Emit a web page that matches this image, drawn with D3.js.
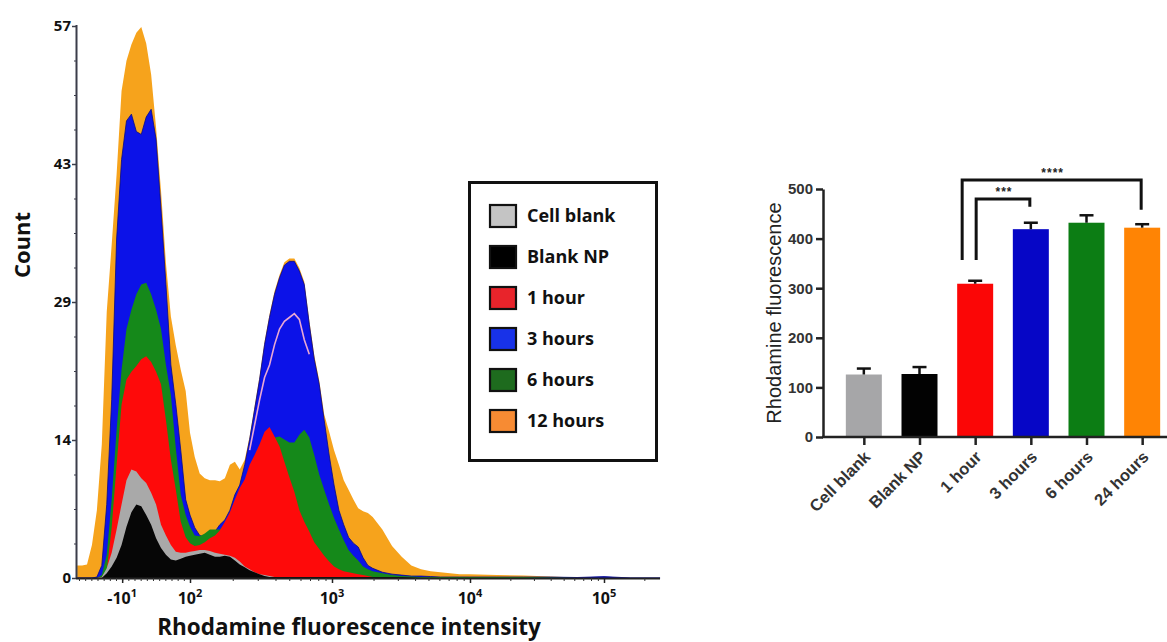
<!DOCTYPE html>
<html><head><meta charset="utf-8">
<script src="https://cdn.jsdelivr.net/npm/d3@7"></script>
<style>body{margin:0;background:#fff;}svg{display:block;}</style>
</head><body>
<svg id="c" width="1167" height="642"></svg>
<script>
// ---------------- DATA ----------------
// Histogram bin centres (fluorescence intensity)
const fluorBins = [-83,-75,-67,-59,-51,-43,-35,-27,-19,-11,-3,5,13,21,29,37,45,53,61,69,77,85,93,
  100,108,117,127,138,150,162,176,191,207,224,243,263,285,309,335,363,394,427,462,501,543,589,638,692,750,813,881,955,1035,
  1122,1216,1318,1429,1549,1679,1820,1972,2317,2723,3199,3758,4416,5188,6095,7161,8414,9886,15849,25119,39811,63096,100000,158489,262144];

const count12h = [1.3,1.3,1.4,3.4,7.0,13.8,27.5,34.4,41.7,50.3,53.4,55.1,56.3,56.9,55.2,52.0,46.5,40.0,32.5,27.0,24.0,21.5,19.3,
  15.0,12.5,10.8,10.3,10.1,10.1,10.0,10.3,11.7,12.0,11.2,12.2,14.6,17.7,20.8,24.4,27.2,29.6,31.3,32.6,33.0,33.0,32.0,30.6,26.6,23.0,20.4,16.9,15.1,13.2,
  11.7,10.1,9.1,8.1,7.2,6.9,6.7,6.3,5.0,3.3,2.2,1.3,0.9,0.7,0.6,0.5,0.4,0.4,0.3,0.25,0.15,0.05,0.05,0,0];
const count3h = [0,0,0,0,0.1,1.3,7.6,18.4,35.0,43.2,47.2,47.9,46.1,45.8,47.6,48.4,45.3,38.1,30.3,22.0,17.9,13.2,8.1,
  6.5,5.2,4.4,4.2,4.4,4.8,5.5,6.0,7.0,8.6,9.6,11.7,14.3,17.4,20.5,24.1,26.9,29.3,31.0,32.3,32.7,32.7,31.7,30.3,26.2,22.6,20.0,16.3,12.7,9.6,
  7.0,5.5,4.2,3.6,3.2,2.1,1.3,1.0,0.6,0.4,0.3,0.2,0.2,0.15,0.1,0.1,0.1,0.1,0.1,0.1,0.1,0.05,0.15,0,0];
const count6h = [0,0,0,0,0,0.3,2.4,8.1,15.3,21.5,25.7,27.7,29.3,30.3,30.5,29.3,27.7,25.7,22.0,18.9,13.4,8.6,6.5,
  5.3,4.4,4.3,4.6,5.0,5.0,5.0,5.6,6.5,7.8,9.0,9.9,11.2,12.2,13.2,14.1,14.3,14.5,14.6,14.3,14.0,14.0,14.8,15.3,14.5,12.7,10.7,9.1,7.6,6.2,
  5.0,3.9,2.9,2.3,1.8,1.2,0.9,0.7,0.5,0.3,0.2,0.15,0.1,0.1,0.1,0.1,0.1,0.1,0.1,0.1,0.05,0,0,0,0];
const count1h = [0,0,0,0,0,0.1,0.8,5.2,11.7,17.9,20.5,21.3,21.9,22.6,22.9,22.3,21.3,20.0,16.3,12.2,9.1,5.8,4.2,
  3.6,3.3,3.4,3.7,4.1,4.4,4.9,5.8,6.8,8.1,9.3,10.2,11.7,12.7,13.8,15.1,15.6,14.6,13.6,12.0,10.4,8.9,7.0,5.8,4.8,3.7,3.0,2.3,1.7,1.2,
  0.9,0.7,0.6,0.5,0.4,0.3,0.2,0.1,0.1,0.1,0.05,0,0,0,0,0,0,0,0,0,0,0,0,0,0];
const countCellBlank = [0,0,0,0,0,0.1,1.0,2.6,5.0,7.6,10.1,11.2,11.0,10.3,9.8,8.8,7.6,5.5,4.4,3.4,2.7,2.6,2.6,
  2.7,2.8,2.9,2.9,2.8,2.6,2.5,2.4,2.3,2.1,1.7,1.2,0.9,0.6,0.4,0.3,0.2,0.1,0.05,0,0,0,0,0,0,0,0,0,0,0,
  0,0,0,0,0,0,0,0,0,0,0,0,0,0,0,0,0,0,0,0,0,0,0,0,0];
const countBlankNP = [0,0,0,0,0,0,0.5,1.2,2.1,3.4,5.3,6.8,7.6,7.4,6.5,5.5,4.1,3.1,2.4,1.9,1.8,2.0,2.2,
  2.3,2.4,2.5,2.6,2.4,2.2,2.2,2.3,2.2,1.8,1.4,1.1,0.8,0.6,0.4,0.2,0.1,0.1,0.1,0.1,0.1,0.1,0.1,0.1,0.1,0.1,0.1,0.1,0.1,0.1,
  0.1,0.1,0.1,0.1,0.1,0.1,0.1,0.1,0.1,0.1,0.1,0.05,0,0,0,0,0,0,0,0,0,0,0,0,0];
// thin pink outline drawn over the 3 hours peak
const outlineBins = [263,285,309,335,363,394,427,462,501,543,589,638,692];
const outlineCounts = [13.2,15.8,18.4,20.7,22.0,24.1,25.7,26.5,26.9,27.3,26.7,24.6,23.1];

const legendLabels = ["Cell blank","Blank NP","1 hour","3 hours","6 hours","12 hours"];
const histYTicks = [0,14.25,28.5,42.75,57];
const histYTickLabels = ["0","14","29","43","57"];
const histXTicks = [-10,100,1000,10000,100000];
const histXTickBase = ["-10","10","10","10","10"];
const histXTickExp = ["1","2","3","4","5"];

// Bar chart
const barCategories = ["Cell blank","Blank NP","1 hour","3 hours","6 hours","24 hours"];
const barValues = [126,127,309,419,432,422];
const barErrors = [12,14,6,13,15,7];
const barYTicks = [0,100,200,300,400,500];
const comparisons = [
  {from:"1 hour", to:"3 hours", label:"***"},
  {from:"1 hour", to:"24 hours", label:"****"}
];

// ---------------- DRAW ----------------
const svg = d3.select("#c");
const HF = "'Open Sans', 'DejaVu Sans', sans-serif";
const BF = "'Liberation Sans', Arial, sans-serif";

// ---- Histogram ----
const biex = v => v >= 100 ? Math.log10(v) : 2 - (100 - v) / (100 * Math.LN10);
const xT = d3.scaleLinear().domain([2,3,4,5]).range([190,332,470,604]);
const xH = v => xT(biex(v));
const yH = d3.scaleLinear().domain([0,57]).range([578,26]);

const histSeries = [
  {values:count12h, fill:"#f6a31c", stroke:"none"},
  {values:count3h, fill:"#0c12e8", stroke:"#05098a"},
  {values:count6h, fill:"#15891a", stroke:"none"},
  {values:count1h, fill:"#fe0a0a", stroke:"none"},
  {values:countCellBlank, fill:"#a9a9a9", stroke:"none"},
  {values:countBlankNP, fill:"#060606", stroke:"none"}
];
const area = d3.area().x((d,i)=>xH(fluorBins[i])).y0(yH(0)).y1(d=>yH(d));
const hg = svg.append("g");
histSeries.forEach((s,k)=>{
  hg.append("path").attr("d", area(s.values)).attr("fill", s.fill)
    .attr("stroke", s.stroke).attr("stroke-width", 0.8);
  if (k === 1) {
    hg.append("path")
      .attr("d", d3.line().x((d,i)=>xH(outlineBins[i])).y(d=>yH(d))(outlineCounts))
      .attr("fill","none").attr("stroke","#e9a8d2").attr("stroke-width",1.6);
  }
});

// axes lines
svg.append("line").attr("x1",76.5).attr("x2",76.5).attr("y1",yH(57)-1).attr("y2",579)
  .attr("stroke","#3b3d4a").attr("stroke-width",2);
svg.append("line").attr("x1",76).attr("x2",660).attr("y1",578.5).attr("y2",578.5)
  .attr("stroke","#222").attr("stroke-width",2);

// y ticks
const yAx = svg.append("g").attr("transform","translate(76,0)")
  .call(d3.axisLeft(yH).tickValues(histYTicks).tickSize(4).tickFormat((d,i)=>histYTickLabels[i]));
yAx.select(".domain").remove();
yAx.selectAll("line").attr("stroke","#3b3d4a").attr("stroke-width",1.5);
yAx.selectAll("text").attr("font-family",HF).attr("font-weight",700).attr("font-size",15)
  .attr("fill","#111").attr("x",-5);
const yMinor = svg.append("g").attr("transform","translate(76,0)")
  .call(d3.axisLeft(yH).tickValues(d3.range(0,57.01,3.5625)).tickSize(2).tickFormat(""));
yMinor.select(".domain").remove();
yMinor.selectAll("line").attr("stroke","#3b3d4a");

// x ticks
const xMinorVals = d3.range(-80,100,10).map(biex)
  .concat([2,3,4,5].flatMap(e=>d3.range(2,10).map(m=>Math.log10(m*Math.pow(10,e)))).filter(t=>t<5.41));
const xMinor = svg.append("g").attr("transform","translate(0,578)")
  .call(d3.axisBottom(xT).tickValues(xMinorVals).tickSize(3).tickFormat(""));
xMinor.select(".domain").remove();
xMinor.selectAll("line").attr("stroke","#333");
const xMajor = svg.append("g").attr("transform","translate(0,578)")
  .call(d3.axisBottom(xT).tickValues(histXTicks.map(biex)).tickSize(5).tickFormat(""));
xMajor.select(".domain").remove();
xMajor.selectAll("line").attr("stroke","#222").attr("stroke-width",1.5);
histXTicks.forEach((v,i)=>{
  const t = svg.append("text").attr("x", xH(v)).attr("y", 604).attr("text-anchor","middle")
    .attr("font-family",HF).attr("font-weight",700).attr("font-size",16).attr("fill","#111");
  t.append("tspan").text(histXTickBase[i]);
  t.append("tspan").attr("dy",-7).attr("font-size",11).text(histXTickExp[i]);
});

// titles
svg.append("text").attr("x",349).attr("y",635).attr("text-anchor","middle")
  .attr("font-family",HF).attr("font-weight",700).attr("font-size",22.5).attr("fill","#111")
  .text("Rhodamine fluorescence intensity");
svg.append("text").attr("transform","translate(30,245) rotate(-90)").attr("text-anchor","middle")
  .attr("font-family",HF).attr("font-weight",700).attr("font-size",22).attr("fill","#111")
  .text("Count");

// legend
const legendFills = ["#c4c4c4","#000000","#e8242b","#1832e8","#1e6b1e","#f78b33"];
svg.append("rect").attr("x",469.5).attr("y",182.5).attr("width",187).attr("height",278)
  .attr("fill","#fff").attr("stroke","#111").attr("stroke-width",3);
const ly = d3.scalePoint().domain(legendLabels).range([216,421]);
legendLabels.forEach((lab,i)=>{
  svg.append("rect").attr("x",490).attr("y",ly(lab)-11).attr("width",26).attr("height",22)
    .attr("fill",legendFills[i]).attr("stroke","#111").attr("stroke-width",2.2);
  svg.append("text").attr("x",527).attr("y",ly(lab)).attr("dy","0.35em")
    .attr("font-family",HF).attr("font-weight",700).attr("font-size",18).attr("fill","#111").text(lab);
});

// ---- Bar chart ----
const xB = d3.scalePoint().domain(barCategories).range([836,1170]).padding(0.5);
const yB = d3.scaleLinear().domain([0,500]).range([437,189]);
const barFills = ["#a6a6a8","#020202","#fb0606","#0606c6","#0c7d14","#ff8404"];
const barW = 36;
const bg = svg.append("g");
barCategories.forEach((c,i)=>{
  bg.append("rect").attr("x",xB(c)-barW/2).attr("y",yB(barValues[i])).attr("width",barW)
    .attr("height",yB(0)-yB(barValues[i])).attr("fill",barFills[i]);
  const top = yB(barValues[i]+barErrors[i]);
  bg.append("line").attr("x1",xB(c)).attr("x2",xB(c)).attr("y1",yB(barValues[i])).attr("y2",top)
    .attr("stroke","#111").attr("stroke-width",2.5);
  bg.append("line").attr("x1",xB(c)-7).attr("x2",xB(c)+7).attr("y1",top).attr("y2",top)
    .attr("stroke","#111").attr("stroke-width",2.5);
});
const bY = svg.append("g").attr("transform","translate(823,0)")
  .call(d3.axisLeft(yB).tickValues(barYTicks).tickSize(7).tickSizeOuter(0));
bY.select(".domain").attr("stroke","#222").attr("stroke-width",2.5);
bY.selectAll("line").attr("stroke","#222").attr("stroke-width",2.5);
bY.selectAll("text").attr("font-family",BF).attr("font-weight",700).attr("font-size",15).attr("fill","#333");
svg.append("line").attr("x1",822).attr("x2",1167).attr("y1",437).attr("y2",437)
  .attr("stroke","#222").attr("stroke-width",2.5);
const bX = svg.append("g").attr("transform","translate(0,437)")
  .call(d3.axisBottom(xB).tickSize(8).tickSizeOuter(0));
bX.select(".domain").remove();
bX.selectAll("line").attr("stroke","#222").attr("stroke-width",2.5);
bX.selectAll("text").attr("font-family",BF).attr("font-weight",700).attr("font-size",16.5).attr("fill","#333")
  .attr("text-anchor","end").attr("dy",null).attr("y",null)
  .attr("transform","translate(7,21) rotate(-45)");
svg.append("text").attr("transform","translate(781,313) rotate(-90)").attr("text-anchor","middle")
  .attr("font-family",BF).attr("font-size",20).attr("fill","#222").text("Rhodamine fluorescence");

// significance brackets
const bracketLevels = [480, 518];
const bracketLeftOffset = [1, -13];
const bracketRightDrop = [464, 458];
comparisons.forEach((cmp,i)=>{
  const x1 = xB(cmp.from) + bracketLeftOffset[i];
  const x2 = xB(cmp.to) - 1;
  const yTop = yB(bracketLevels[i]);
  const p = d3.path();
  p.moveTo(x1, yB(357)); p.lineTo(x1, yTop); p.lineTo(x2, yTop); p.lineTo(x2, yB(bracketRightDrop[i]));
  svg.append("path").attr("d", p.toString()).attr("fill","none").attr("stroke","#111").attr("stroke-width",3);
  svg.append("text").attr("x",(x1+x2)/2 + 1).attr("y",yTop-3).attr("text-anchor","middle")
    .attr("font-family",BF).attr("font-weight",700).attr("font-size",12).attr("letter-spacing",1)
    .attr("fill","#222").text(cmp.label);
});
</script>
</body></html>
